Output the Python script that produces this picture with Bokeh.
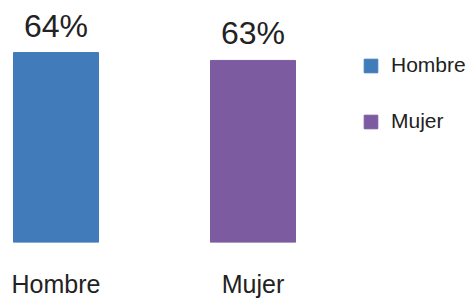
from bokeh.plotting import figure
from bokeh.models import ColumnDataSource, Range1d, FixedTicker, Legend, LegendItem
from bokeh.core.properties import value
from bokeh.embed import file_html
from bokeh.resources import INLINE

categories = ["Hombre", "Mujer"]
values = [64, 63]
value_labels = ["64%", "63%"]
colors = ["#417BBA", "#7C5BA0"]
positions = [0, 1]

FONT = "Liberation Sans"
TEXT = "#222222"

src = ColumnDataSource(dict(x=positions, top=values, lab=value_labels,
                            color=colors, cat=categories))

x0 = -55.5 / 197
p = figure(width=468, height=300, output_backend="svg", toolbar_location=None,
           x_range=Range1d(x0, x0 + 468 / 197), y_range=Range1d(40, 70.57),
           min_border_left=0, min_border_right=0, min_border_top=0, min_border_bottom=0)
p.outline_line_color = None
p.xgrid.visible = False
p.ygrid.visible = False
p.yaxis.visible = False

bars = p.vbar(x="x", top="top", bottom=40, width=85 / 197, color="color", source=src)

p.text(x="x", y="top", text="lab", source=src, text_align="center",
       text_baseline="alphabetic", y_offset=-27, text_font=value(FONT),
       text_font_size="32px", text_color=TEXT)

ax = p.xaxis[0]
ax.ticker = FixedTicker(ticks=positions)
ax.major_label_overrides = {pos: c for pos, c in zip(positions, categories)}
ax.axis_line_color = None
ax.major_tick_line_color = None
ax.major_tick_out = 0
ax.major_tick_in = 0
ax.minor_tick_line_color = None
ax.major_label_standoff = 27
ax.major_label_text_font = FONT
ax.major_label_text_font_size = "25px"
ax.major_label_text_color = TEXT

items = [LegendItem(label=c, renderers=[bars], index=i) for i, c in enumerate(categories)]

legend = Legend(items=items, location=(362, 109), orientation="vertical",
                glyph_width=17, glyph_height=17, label_standoff=12, spacing=32,
                padding=0, margin=0, border_line_color=None, background_fill_alpha=0,
                label_text_font=FONT, label_text_font_size="21px",
                label_text_color=TEXT)
p.add_layout(legend)

open("out.html", "w").write(file_html(p, INLINE))
